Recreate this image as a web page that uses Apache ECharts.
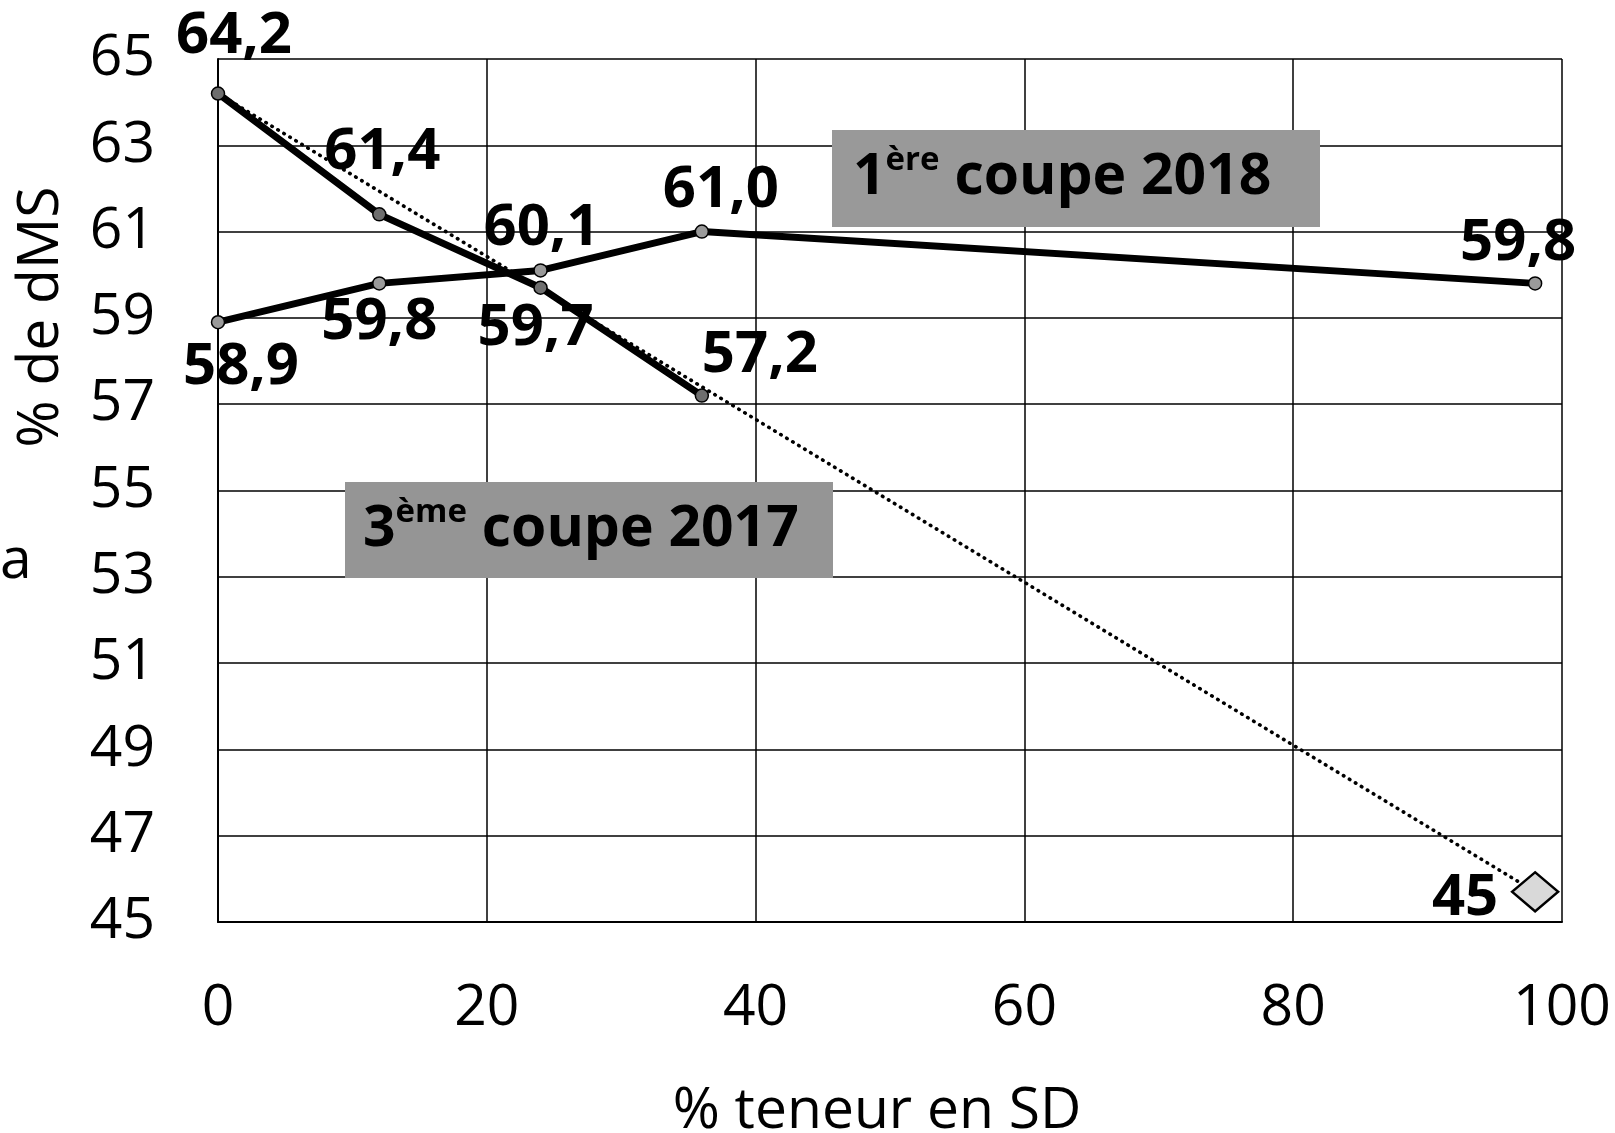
<!DOCTYPE html>
<html><head><meta charset="utf-8">
<script src="https://cdn.jsdelivr.net/npm/echarts@6/dist/echarts.min.js"></script>
<style>html,body{margin:0;padding:0;background:#fff}#c{width:1615px;height:1133px}</style>
</head><body><div id="c"></div>
<script>
// ---- data ----
const coupe3X = [0, 12, 24, 36];
const coupe3Y = [64.2, 61.4, 59.7, 57.2];
const coupe1X = [0, 12, 24, 36, 98];
const coupe1Y = [58.9, 59.8, 60.1, 61.0, 59.8];
const trendX = [0, 98];
const trendY = [64.2, 45.7];
const pointX = [98];
const pointY = [45.7];
const pointLabels = ['45'];
const yMin = 45, yMax = 65, yStep = 2;
const xMin = 0, xMax = 100, xStep = 20;
const legend1 = ['1', 'ère', ' coupe 2018'];
const legend3 = ['3', 'ème', ' coupe 2017'];
const xTitle = '% teneur en SD';
const yTitle = '% de dMS';
const sideLetter = 'a';

// ---- label placement (style) ----
const off3 = [[16, -57], [3, -62], [-5, 41], [58, -40]];
const off1 = [[23, 45], [0, 39], [1, -42], [19, -41], [-17, -40]];
const offP = [[-70, 7]];

const FONT = 'Open Sans';
const fmt = v => v.toFixed(1).replace('.', ',');
const lbl = (o, text) => ({
  show: true, position: 'inside', offset: o, color: '#000',
  fontFamily: FONT, fontWeight: 'bold', fontSize: 58,
  formatter: text
});

const chart = echarts.init(document.getElementById('c'));
chart.setOption({
  animation: false,
  backgroundColor: '#fff',
  grid: { left: 218, right: 53, top: 59, bottom: 211, containLabel: false, outerBoundsMode: 'none' },
  xAxis: {
    type: 'value', min: xMin, max: xMax, interval: xStep,
    name: xTitle, nameLocation: 'middle', nameGap: 161,
    nameTextStyle: { fontFamily: FONT, fontSize: 57, color: '#000', padding: [0, 26, 0, 0] },
    axisLine: { show: true, lineStyle: { color: '#000', width: 2 } },
    axisTick: { show: false },
    axisLabel: { margin: 58, fontFamily: FONT, fontSize: 57, color: '#000' },
    splitLine: { show: true, lineStyle: { color: '#000', width: 1.5 } }
  },
  yAxis: {
    type: 'value', min: yMin, max: yMax, interval: yStep,
    axisLine: { show: true, lineStyle: { color: '#000', width: 2 } },
    axisTick: { show: false },
    axisLabel: { margin: 63, fontFamily: FONT, fontSize: 57, color: '#000' },
    splitLine: { show: true, lineStyle: { color: '#000', width: 1.5 } }
  },
  series: [
    {
      type: 'line', name: 'tendance', silent: true,
      data: trendX.map((x, i) => [x, trendY[i]]),
      showSymbol: false, symbol: 'none',
      lineStyle: { color: '#000', width: 3.6, type: [0.5, 6.5], cap: 'round' },
      z: 2
    },
    {
      type: 'line', name: '3ème coupe 2017',
      data: coupe3X.map((x, i) => ({ value: [x, coupe3Y[i]], label: lbl(off3[i], fmt(coupe3Y[i])) })),
      symbol: 'circle', symbolSize: 13,
      itemStyle: { color: '#6e6e6e', borderColor: '#000', borderWidth: 1.5 },
      lineStyle: { color: '#000', width: 7 },
      z: 3
    },
    {
      type: 'line', name: '1ère coupe 2018',
      data: coupe1X.map((x, i) => ({ value: [x, coupe1Y[i]], label: lbl(off1[i], fmt(coupe1Y[i])) })),
      symbol: 'circle', symbolSize: 13,
      itemStyle: { color: '#9a9a9a', borderColor: '#000', borderWidth: 1.5 },
      lineStyle: { color: '#000', width: 7 },
      z: 3
    },
    {
      type: 'scatter', name: 'SD 100',
      data: pointX.map((x, i) => ({ value: [x, pointY[i]], label: lbl(offP[i], pointLabels[i]) })),
      symbol: 'diamond', symbolSize: [46, 39],
      itemStyle: { color: '#d9d9d9', borderColor: '#000', borderWidth: 2.5, opacity: 1 },
      z: 4
    }
  ],
  graphic: [
    { type: 'rect', left: 832, top: 130, shape: { width: 488, height: 97 }, style: { fill: '#999999' }, z: 10 },
    { type: 'text', left: 853, top: 144, z: 11,
      style: {
        text: '{a|' + legend1[0] + '}{s|' + legend1[1] + '}{a|' + legend1[2] + '}',
        rich: {
          a: { fontFamily: FONT, fontWeight: 'bold', fontSize: 57, color: '#000', lineHeight: 68 },
          s: { fontFamily: FONT, fontWeight: 'bold', fontSize: 33, color: '#000', lineHeight: 44, verticalAlign: 'top' }
        }
      } },
    { type: 'rect', left: 345, top: 482, shape: { width: 488, height: 96 }, style: { fill: '#959595' }, z: 10 },
    { type: 'text', left: 363, top: 496, z: 11,
      style: {
        text: '{a|' + legend3[0] + '}{s|' + legend3[1] + '}{a|' + legend3[2] + '}',
        rich: {
          a: { fontFamily: FONT, fontWeight: 'bold', fontSize: 57, color: '#000', lineHeight: 68 },
          s: { fontFamily: FONT, fontWeight: 'bold', fontSize: 33, color: '#000', lineHeight: 44, verticalAlign: 'top' }
        }
      } },
    { type: 'text', x: 42, y: 317, rotation: Math.PI / 2, z: 11,
      style: { text: yTitle, fontFamily: FONT, fontSize: 57, fill: '#000', align: 'center', verticalAlign: 'middle' } },
    { type: 'text', x: 0, y: 562, z: 11,
      style: { text: sideLetter, fontFamily: FONT, fontSize: 57, fill: '#000', align: 'left', verticalAlign: 'middle' } }
  ]
});
</script></body></html>
